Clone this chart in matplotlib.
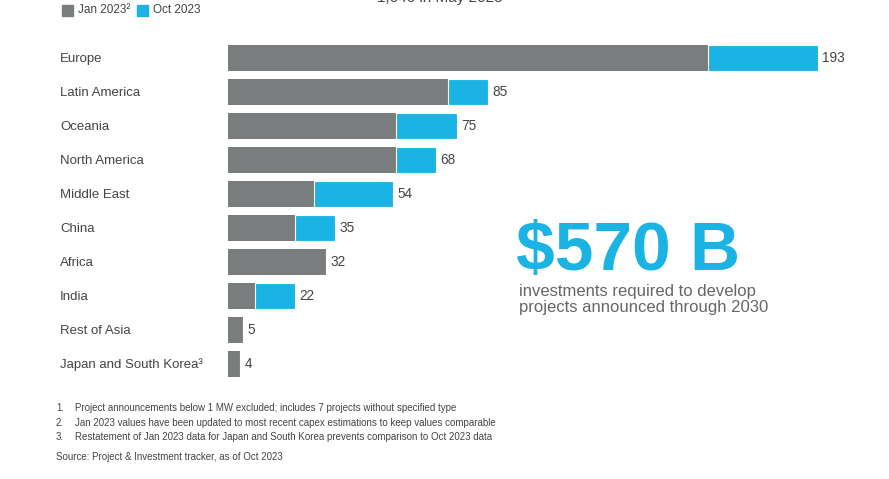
import matplotlib.pyplot as plt
from matplotlib.patches import Rectangle

regions = ['Europe', 'Latin America', 'Oceania', 'North America', 'Middle East',
           'China', 'Africa', 'India', 'Rest of Asia', 'Japan and South Korea³']
jan_2023 = [157, 72, 55, 55, 28, 22, 32, 9, 5, 4]
oct_2023 = [193, 85, 75, 68, 54, 35, 32, 22, 5, 4]

GREY = '#7a7d7d'
BLUE = '#1ab3e3'
TXT = '#444444'
plt.rcParams['font.family'] = ['Liberation Sans', 'DejaVu Sans']

W, H = 889, 479
fig = plt.figure(figsize=(W / 100, H / 100), dpi=100)
ax = fig.add_axes([228 / W, 1 - 381 / H, 611 / W, 340 / H])
y = list(range(len(regions)))
inc = [o - j for o, j in zip(oct_2023, jan_2023)]
ax.barh(y, jan_2023, height=0.74, color=GREY, lw=0)
ax.barh(y, inc, left=jan_2023, height=0.74, color=BLUE, edgecolor='white', lw=0.8)
for i, v in enumerate(oct_2023):
    ax.text(v + 1.5, i, str(v), va='center', ha='left', fontsize=9.8, color=TXT)
ax.set_xlim(0, 200)
ax.set_ylim(len(regions) - 0.5, -0.5)
ax.axis('off')

for i, r in enumerate(regions):
    fig.text(60 / W, 1 - (59 + 34 * i) / H, r, va='center', ha='left', fontsize=9.5, color=TXT)

# legend
fig.patches.append(Rectangle((62 / W, 1 - 16 / H), 11 / W, 11 / H, color=GREY, transform=fig.transFigure))
fig.text(78 / W, 1 - 10 / H, 'Jan 2023²', va='center', fontsize=8.5, color=TXT)
fig.patches.append(Rectangle((137 / W, 1 - 16 / H), 11 / W, 11 / H, color=BLUE, transform=fig.transFigure))
fig.text(153 / W, 1 - 10 / H, 'Oct 2023', va='center', fontsize=8.5, color=TXT)
fig.text(440 / W, 1 - 2 / H, '1,046 in May 2023', ha='center', va='baseline', fontsize=11, color=TXT)

# callout
fig.text(516 / W, 1 - 270 / H, '$570 B', ha='left', va='baseline', fontsize=50, fontweight='bold', color=BLUE)
fig.text(519 / W, 1 - 284 / H, 'investments required to develop\nprojects announced through 2030',
         ha='left', va='top', fontsize=12, color='#666666', linespacing=1.1)

notes = ['Project announcements below 1 MW excluded; includes 7 projects without specified type',
         'Jan 2023 values have been updated to most recent capex estimations to keep values comparable',
         'Restatement of Jan 2023 data for Japan and South Korea prevents comparison to Oct 2023 data']
for i, n in enumerate(notes):
    yy = 1 - (408 + 14.5 * i) / H
    fig.text(56 / W, yy, f'{i + 1}.', va='center', fontsize=7, color=TXT)
    fig.text(75 / W, yy, n, va='center', fontsize=7, color=TXT)
fig.text(56 / W, 1 - 457 / H, 'Source: Project & Investment tracker, as of Oct 2023', va='center', fontsize=7, color=TXT)

fig.savefig('out.png', dpi=100)
